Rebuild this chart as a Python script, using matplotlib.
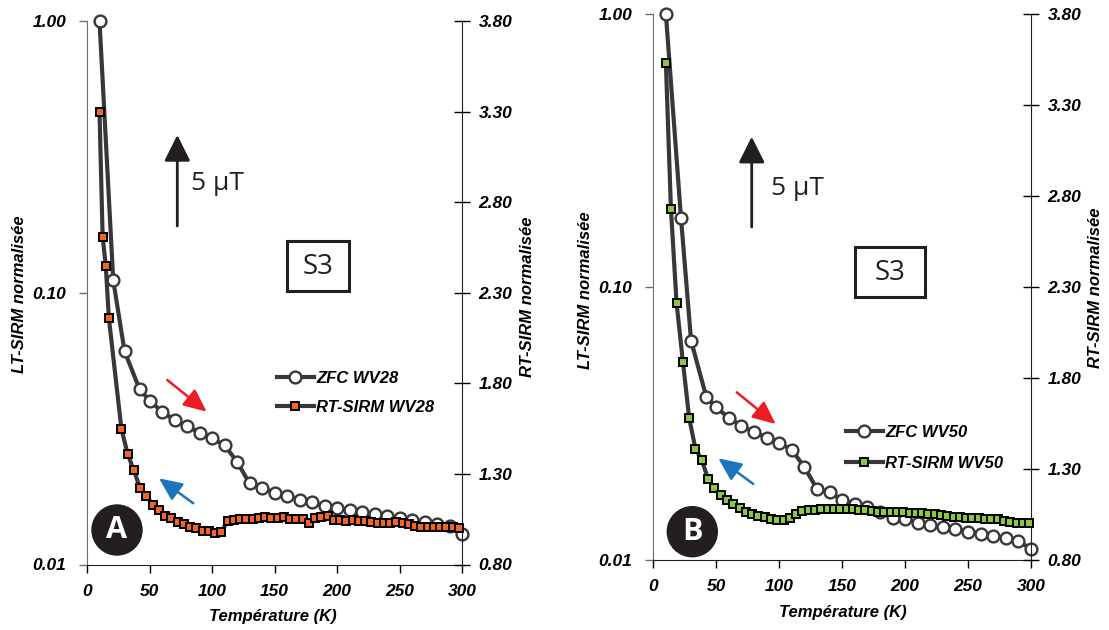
import matplotlib
matplotlib.use("Agg")
import matplotlib.pyplot as plt
from matplotlib.lines import Line2D
from matplotlib.patches import Ellipse, Rectangle, FancyArrowPatch
from matplotlib.ticker import FixedLocator, FixedFormatter, NullLocator

plt.rcParams['font.family'] = ['Liberation Sans', 'DejaVu Sans']
plt.rcParams['font.weight'] = 'bold'
plt.rcParams['font.style'] = 'italic'

W, H = 1109, 630

# ---- panel A : WV28 ----
temp_zfc_a = [10, 21, 30, 42, 50, 60, 70, 80, 90, 100, 110, 120, 130, 140, 150,
              160, 170, 180, 190, 200, 210, 220, 230, 240, 250, 260, 270, 280, 290, 300]
zfc_a = [1.00, 0.111, 0.061, 0.0442, 0.0401, 0.0365, 0.0340, 0.0322, 0.0306, 0.0291,
         0.0275, 0.0239, 0.0199, 0.0191, 0.0184, 0.0179, 0.0173, 0.0170, 0.0164, 0.0161,
         0.0159, 0.0156, 0.0153, 0.0151, 0.0148, 0.0146, 0.0143, 0.0141, 0.0138, 0.0130]

temp_rt_a = [10, 12.5, 15, 17.5, 27.5, 32.5, 37.5, 42.5, 47.5, 52.5, 57.5, 62.5, 67.5,
             72.5, 77.5, 82.5, 87.5, 92.5, 97.5, 102.5, 107.5, 112.5, 117.5, 122.5, 127.5,
             132.5, 137.5, 142.5, 147.5, 152.5, 157.5, 162.5, 167.5, 172.5, 177.5, 182.5,
             187.5, 192.5, 197.5, 202.5, 207.5, 212.5, 217.5, 222.5, 227.5, 232.5, 237.5,
             242.5, 247.5, 252.5, 257.5, 262.5, 267.5, 272.5, 277.5, 282.5, 287.5, 292.5, 297.5]
rt_a = [3.30, 2.61, 2.45, 2.16,
        1.55, 1.41, 1.32, 1.22, 1.18, 1.13, 1.10, 1.07, 1.055, 1.033, 1.022, 1.009,
        1.000, 0.987, 0.987, 0.972, 0.981, 1.040, 1.046, 1.049, 1.049, 1.049, 1.055,
        1.064, 1.055, 1.055, 1.061, 1.051, 1.051, 1.051, 1.031, 1.057,
        1.061, 1.068, 1.046, 1.046, 1.042, 1.046, 1.042, 1.042, 1.033, 1.027, 1.027,
        1.027, 1.033, 1.027, 1.022, 1.014, 1.005, 1.009, 1.009, 1.005, 1.005, 1.005, 1.000]

# ---- panel B : WV50 ----
temp_zfc_b = [10, 22, 30, 42, 50, 60, 70, 80, 90, 100, 110, 120, 130, 140, 150,
              160, 170, 180, 190, 200, 210, 220, 230, 240, 250, 260, 270, 280, 290, 300]
zfc_b = [1.00, 0.179, 0.0636, 0.0397, 0.0362, 0.0332, 0.0310, 0.0294, 0.0281, 0.0269,
         0.0253, 0.0219, 0.0182, 0.0177, 0.0166, 0.0160, 0.0157, 0.0150, 0.0143, 0.0141,
         0.0137, 0.0134, 0.0132, 0.0130, 0.0127, 0.0125, 0.0122, 0.0120, 0.0117, 0.0110]

temp_rt_b = [10, 14, 18.5, 23.5, 28.5, 33.5, 38.5, 43.5, 48.5, 53.5, 58.5, 63.5, 68.5,
             73.5, 78.5, 83.5, 88.5, 93.5, 98.5, 103.5, 108.5, 113.5, 118.5, 123.5, 128.5,
             133.5, 138.5, 143.5, 148.5, 153.5, 158.5, 163.5, 168.5, 173.5, 178.5, 183.5,
             188.5, 193.5, 198.5, 203.5, 208.5, 213.5, 218.5, 223.5, 228.5, 233.5, 238.5,
             243.5, 248.5, 253.5, 258.5, 263.5, 268.5, 273.5, 278.5, 283.5, 288.5, 293.5, 298.5]
rt_b = [3.53, 2.73,
        2.21, 1.89, 1.58, 1.41, 1.35, 1.245, 1.194, 1.157, 1.130, 1.108, 1.084, 1.065,
        1.053, 1.042, 1.035, 1.025, 1.020, 1.020, 1.029, 1.051, 1.071, 1.075, 1.075,
        1.079, 1.079, 1.079, 1.079, 1.079, 1.079, 1.075, 1.075, 1.071, 1.065,
        1.066, 1.066, 1.062, 1.062, 1.056, 1.056, 1.056, 1.053, 1.051, 1.047, 1.044,
        1.038, 1.034, 1.033, 1.029, 1.029, 1.025, 1.025, 1.023, 1.016, 1.011, 1.005, 1.005, 1.001]

lt_ticks = [0.01, 0.1, 1.0]
lt_labels = ['0.01', '0.10', '1.00']
rt_ticks = [0.8, 1.3, 1.8, 2.3, 2.8, 3.3, 3.8]
rt_labels = ['0.80', '1.30', '1.80', '2.30', '2.80', '3.30', '3.80']
temp_ticks = [0, 50, 100, 150, 200, 250, 300]

LINE = '#38383a'
INK = '#231f20'
TICK_SIZE = 12.5


def fxy(x, y):
    # pixel position (from top-left) -> figure fraction
    return x / W, 1 - y / H


def draw_panel(rect, t_zfc, zfc, t_rt, rt, sq_color):
    ax = fig.add_axes(rect)
    ax.set_yscale('log')
    ax.set_xlim(0, 300)
    ax.set_ylim(0.01, 1.0)
    ax.plot(t_zfc, zfc, '-o', color=LINE, lw=3, ms=8.5, mfc='white', mec=LINE,
            mew=1.7, clip_on=False, zorder=3)
    ax.yaxis.set_major_locator(FixedLocator(lt_ticks))
    ax.yaxis.set_major_formatter(FixedFormatter(lt_labels))
    ax.yaxis.set_minor_locator(NullLocator())
    ax.set_xticks(temp_ticks)
    ax.tick_params(axis='y', direction='out', length=6, width=1, color='#6d6e71',
                   pad=9, labelsize=TICK_SIZE)
    ax.tick_params(axis='x', direction='out', length=6, width=1, pad=8, labelsize=TICK_SIZE)
    ax.spines['top'].set_visible(False)
    ax.spines['right'].set_visible(False)
    ax.spines['left'].set_color('#6d6e71')
    ax.spines['bottom'].set_color(INK)

    ax2 = ax.twinx()
    ax2.set_ylim(0.8, 3.8)
    ax2.plot(t_rt, rt, '-s', color=LINE, lw=3, ms=6, mfc=sq_color, mec='black',
             mew=1.4, clip_on=False, zorder=3)
    ax2.yaxis.set_major_locator(FixedLocator(rt_ticks))
    ax2.yaxis.set_major_formatter(FixedFormatter(rt_labels))
    ax2.tick_params(axis='y', direction='inout', length=12, width=1, pad=6,
                    labelsize=TICK_SIZE)
    for s in ['top', 'left', 'bottom']:
        ax2.spines[s].set_visible(False)
    ax2.spines['right'].set_color(INK)

    handles = [
        Line2D([], [], color=LINE, lw=3, marker='o', ms=8.5, mfc='white', mec=LINE, mew=1.7),
        Line2D([], [], color=LINE, lw=3, marker='s', ms=6, mfc=sq_color, mec='black', mew=1.4),
    ]
    return ax, ax2, handles


fig = plt.figure(figsize=(W / 100, H / 100), dpi=100)

axA, axA2, hA = draw_panel([87 / W, 1 - 564.5 / H, 375 / W, 543.5 / H],
                           temp_zfc_a, zfc_a, temp_rt_a, rt_a, '#f26522')
axB, axB2, hB = draw_panel([653.3 / W, 1 - 560 / H, 377.7 / W, 546 / H],
                           temp_zfc_b, zfc_b, temp_rt_b, rt_b, '#8dc63f')

legend_font = {'size': 12, 'weight': 'bold', 'style': 'italic'}
axA2.legend(hA, ['ZFC WV28', 'RT-SIRM WV28'], loc='upper left', frameon=False,
            bbox_to_anchor=fxy(277, 371), bbox_transform=fig.transFigure,
            handlelength=2.2, handletextpad=0.15, labelspacing=0.85, borderpad=0,
            borderaxespad=0, prop=legend_font)
axB2.legend(hB, ['ZFC WV50', 'RT-SIRM WV50'], loc='upper left', frameon=False,
            bbox_to_anchor=fxy(846, 425), bbox_transform=fig.transFigure,
            handlelength=2.2, handletextpad=0.15, labelspacing=0.95, borderpad=0,
            borderaxespad=0, prop=legend_font)

# axis titles
for x, y in [(20, 294), (585, 290)]:
    fig.text(*fxy(x, y), 'LT-SIRM normalisée', rotation=90, ha='center', va='center',
             fontsize=12)
for x, y in [(528, 297), (1096, 288)]:
    fig.text(*fxy(x, y), 'RT-SIRM normalisée', rotation=90, ha='center', va='center',
             fontsize=12)
for x, y in [(273, 617), (843, 612)]:
    fig.text(*fxy(x, y), 'Température (K)', ha='center', va='center', fontsize=12)

# field arrows, S3 boxes, warming/cooling arrows, panel badges
plain = dict(family=['Open Sans', 'DejaVu Sans'], style='normal', weight='normal', color=INK)

for (x, y0, y1, tx, ty) in [(177.3, 226, 135, 191, 183), (751.7, 227, 136.7, 771, 188)]:
    fig.add_artist(FancyArrowPatch(
        fxy(x, y0), fxy(x, y1), transform=fig.transFigure,
        arrowstyle='-|>,head_length=1.0,head_width=0.5', mutation_scale=16,
        color=INK, lw=2, shrinkA=0, shrinkB=0))
    fig.text(*fxy(tx, ty), '5 µT', ha='left', va='center', fontsize=19, **plain)

for (x0, y0, x1, y1) in [(287.3, 240.7, 349.3, 291), (855, 247, 925, 297)]:
    fig.add_artist(Rectangle(fxy(x0, y1), (x1 - x0) / W, (y1 - y0) / H,
                             transform=fig.transFigure, fill=False, ec=INK, lw=2.2))
    fig.text(*fxy((x0 + x1) / 2, (y0 + y1) / 2 + 1), 'S3', ha='center', va='center',
             fontsize=20, **plain)

arrows = [((167.3, 380), (206.7, 411.7), '#ed1c24'),
          ((193.3, 503.3), (159, 478.3), '#1c75bc'),
          ((736.7, 392.3), (775.7, 424), '#ed1c24'),
          ((753.3, 484), (718.3, 458.3), '#1c75bc')]
for p0, p1, c in arrows:
    fig.add_artist(FancyArrowPatch(
        fxy(*p0), fxy(*p1), transform=fig.transFigure,
        arrowstyle='-|>,head_length=1.0,head_width=0.45', mutation_scale=14,
        color=c, lw=1.8, shrinkA=0, shrinkB=0))

for (cx, cy, letter) in [(117, 530, 'A'), (692.3, 531.7, 'B')]:
    fig.add_artist(Ellipse(fxy(cx, cy), 50 / W, 50 / H, transform=fig.transFigure,
                           color=INK, zorder=5))
    fig.text(*fxy(cx, cy), letter, ha='center', va='center', fontsize=22, color='white',
             family=['Open Sans', 'DejaVu Sans'], weight='bold', style='normal', zorder=6)

fig.savefig('out.png', dpi=100)
